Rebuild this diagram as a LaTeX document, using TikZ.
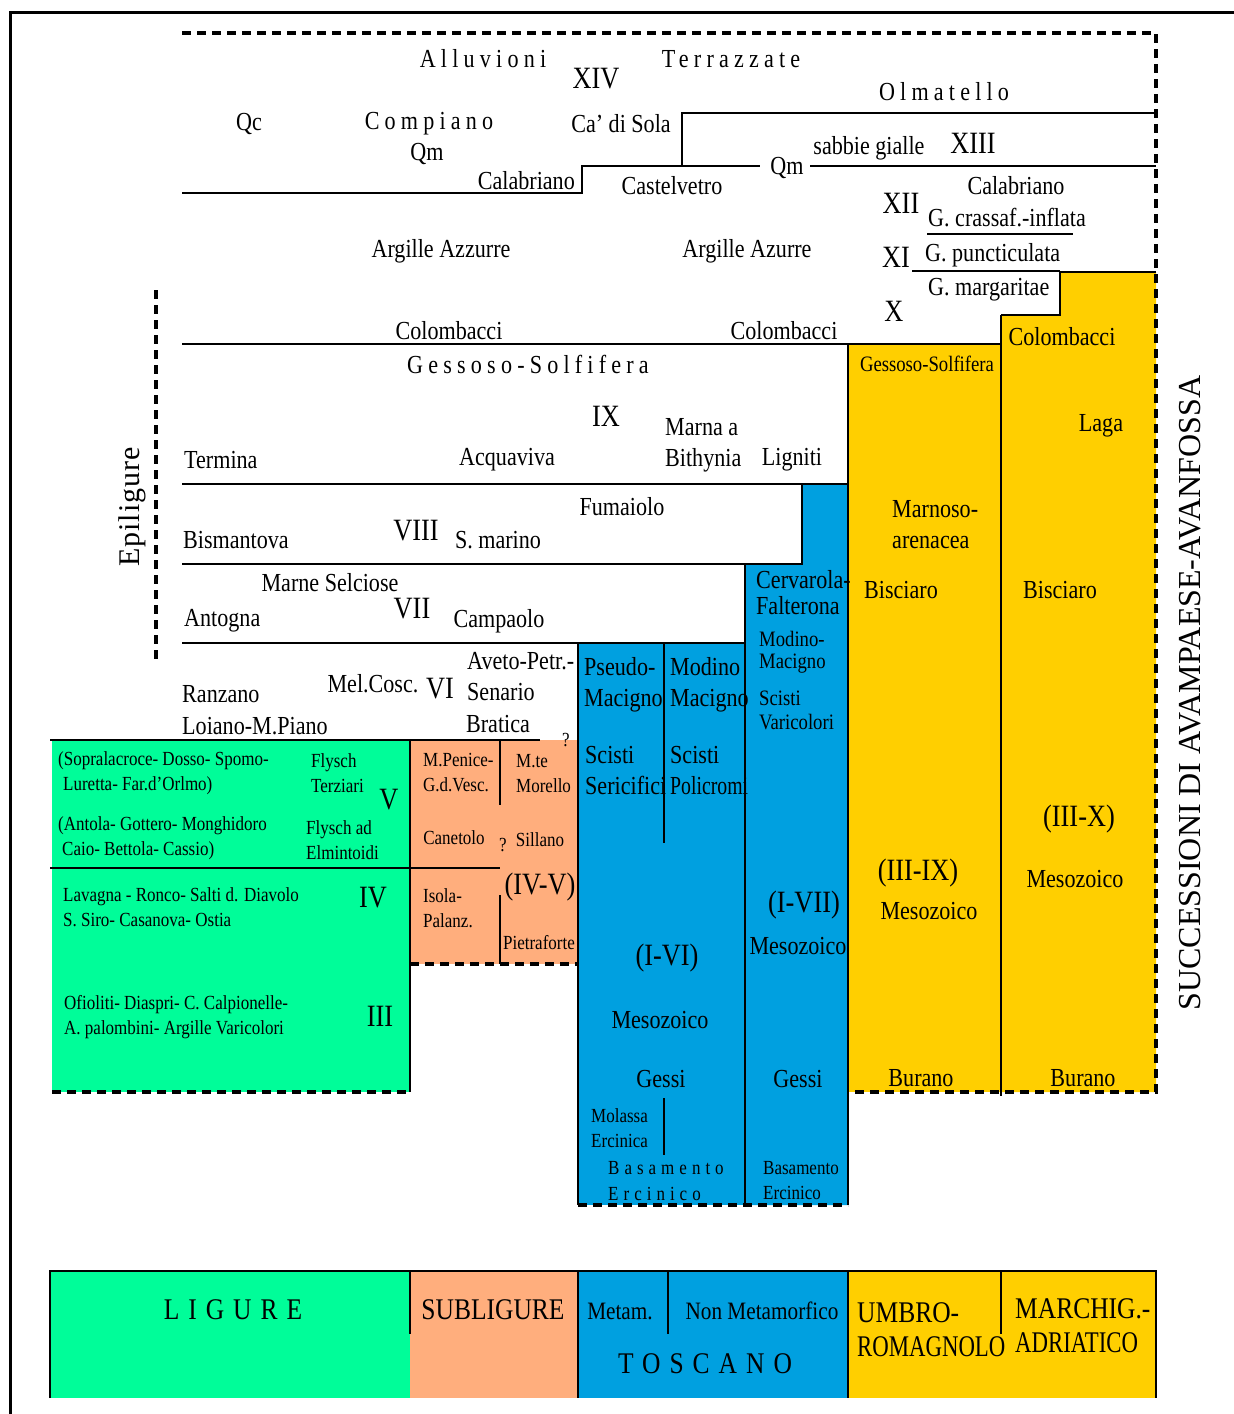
\documentclass[tikz,border=0pt]{standalone}
\usepackage{fontspec}
\setmainfont{Liberation Serif}[FakeStretch=0.85]
\newfontfamily\widefont{Liberation Serif}
\newfontfamily\narrowfont{Liberation Serif}[FakeStretch=0.76]

\definecolor{ligure}{RGB}{0,253,153}
\definecolor{subligure}{RGB}{255,174,125}
\definecolor{toscano}{RGB}{0,160,224}
\definecolor{umbro}{RGB}{255,207,0}

\begin{document}
\begin{tikzpicture}[
    x=1pt, y=-1pt,
    line width = 2.4pt,
    lab/.style={inner sep=0pt, align=left, font=\fontsize{26}{31}\selectfont},
    sml/.style={inner sep=0pt, align=left, font=\fontsize{20}{25}\selectfont},
    mid/.style={inner sep=0pt, align=left, font=\fontsize{22}{22}\selectfont},
    rom/.style={inner sep=0pt, font=\fontsize{31}{31}\selectfont},
    spc/.style={inner sep=0pt, font=\fontsize{26}{27}\selectfont\addfontfeature{LetterSpace=20}},
    leg/.style={inner sep=0pt, align=left, font=\fontsize{30}{34}\selectfont},
    cut/.style={dash pattern=on 9pt off 6pt, line width=3.2pt},
    ]

    % Determines the boundries
    \path [use as bounding box] (0,0) rectangle (1234,1414);

    \def\top{33}
    \def\rgt{1156}
    \def\legT{1271}
    \def\legB{1398}

    % Coloured columns
    \fill[ligure] (52,740) rectangle (410,1092);
    \fill[subligure] (410,740) rectangle (578,964);
    \fill[toscano] (578,643) rectangle (745,1205);
    \fill[toscano] (745,564) -- (802,564) -- (802,484) -- (848,484) -- (848,1205) -- (745,1205) -- cycle;
    \fill[umbro] (848,344) rectangle (1001,1092);
    \fill[umbro] (1001,315) -- (1060,315) -- (1060,272) -- (\rgt,272) -- (\rgt,1092) -- (1001,1092) -- cycle;

    % Outer frame
    \draw[line width = 3pt] (10,1414) -- (10,12) -- (1234,12);

    % Dashed limits
    \draw[cut] (182,\top) -- (\rgt,\top) -- (\rgt,1092) -- (848,1092);
    \draw[cut] (52,1092) -- (410,1092);
    \draw[cut] (410,964) -- (578,964);
    \draw[cut] (578,1205) -- (848,1205);
    \draw[cut] (156,290) -- (156,662);

    % Stratigraphic boundaries
    \draw (682,166) -- (682,113) -- (\rgt,113);
    \draw (182,193) -- (582,193) -- (582,166) -- (760,166);
    \draw (810,166) -- (\rgt,166);
    \draw (927,234) -- (1073,234);
    \draw (912,271) -- (1060,271);
    \draw (1001,315) -- (1060,315) -- (1060,272) -- (\rgt,272);
    \draw (182,344) -- (1001,344);
    \draw (182,484) -- (848,484);
    \draw (182,564) -- (802,564) -- (802,484);
    \draw (182,643) -- (745,643);
    \draw (50,740) -- (540,740);
    \draw (50,868) -- (500,868);
    \draw (500,740) -- (500,805) (500,895) -- (500,964);
    \draw (410,740) -- (410,1092);
    \draw (664,643) -- (664,843) (664,1098) -- (664,1155);
    \foreach \x/\a/\b in {578/643/1205, 745/564/1205, 848/344/1205, 1001/315/1096}{
        \draw (\x,\a) -- (\x,\b);
    }

    % Legend
    \foreach \a/\b/\c in {50/410/ligure, 410/578/subligure, 578/848/toscano, 848/\rgt/umbro}{
        \fill[\c] (\a,\legT) rectangle (\b,\legB);
    }
    \draw[line width = 2pt] (50,\legB) -- (50,\legT) -- (\rgt,\legT) -- (\rgt,\legB);
    \foreach \x/\b in {410/1334, 578/\legB, 668/1334, 848/\legB, 1001/1334}{
        \draw[line width = 2pt] (\x,\legT) -- (\x,\b);
    }

    % Formation names
    \foreach \n/\a/\x/\y/\t in {
        qc/center/249/124/Qc, cadisola/center/621/124/{Ca’ di Sola}, qmA/center/427/154/Qm,
        calabA/east/576/181/Calabriano, castel/center/672/186/Castelvetro, qmB/center/787/168/Qm,
        sabbie/center/869/148/{sabbie gialle}, calabB/center/1016/186/Calabriano,
        crassaf/west/927/218/{G. crassaf.-inflata}, punct/west/924/255/{G. puncticulata},
        margar/west/927/290/{G. margaritae},
        argA/center/441/251/{Argille Azzurre}, argB/center/747/251/{Argille Azurre},
        colA/center/449/331/Colombacci, colB/center/784/331/Colombacci, colC/center/1062/337/Colombacci,
        termina/west/183/460/Termina, acqua/center/507/460/Acquaviva, ligniti/center/792/460/Ligniti,
        marna/west/664/445/{Marna a\\Bithynia}, laga/center/1101/426/Laga,
        fumaiolo/center/622/507/Fumaiolo, bisman/west/182/540/Bismantova, smarino/center/498/540/{S. marino},
        marnoso/west/891/525/{Marnoso-\\arenacea},
        selciose/center/330/583/{Marne Selciose}, antogna/west/183/621/Antogna, campaolo/center/499/621/Campaolo,
        biscA/center/901/590/Bisciaro, biscB/center/1060/590/Bisciaro,
        aveto/west/466/677/{Aveto-Petr.-\\Senario}, melcosc/center/373/684/Mel.Cosc.,
        ranzano/west/181/694/Ranzano, loiano/west/181/726/Loiano-M.Piano, bratica/center/498/724/Bratica,
        pseudo/west/583/685/{Pseudo-\\Macigno}, modinoA/west/669/685/{Modino\\Macigno},
        sericifici/west/584/771/{Scisti\\Sericifici}, policromi/west/669/771/{Scisti\\{\narrowfont Policromi}},
        mesoA/center/660/1020/Mesozoico, gessiA/center/661/1079/Gessi,
        mesoB/center/798/946/Mesozoico, gessiB/center/798/1079/Gessi,
        mesoC/center/929/911/Mesozoico, mesoD/center/1075/879/Mesozoico,
        buranoA/center/921/1078/Burano, buranoB/center/1083/1078/Burano}{
        \node[lab, anchor=\a] (\n) at (\x,\y) {\t};
    }
    \node[lab, anchor=west, font=\fontsize{26}{26}\selectfont] (cervarola) at (755,593) {Cervarola-\\Falterona};

    % Units (roman numerals)
    \foreach \n/\x/\y/\t in {
        xiv/596/79/XIV, xiii/973/143/XIII, xii/901/203/XII, xi/896/257/XI, x/894/311/X,
        ix/606/416/IX, viii/416/531/VIII, vii/412/609/VII, vi/440/689/VI, v/389/800/V,
        iv/373/898/IV, iii/380/1016/III, ivv/540/887/(IV-V), ivi/667/958/(I-VI),
        ivii/804/905/(I-VII), iiiix/918/873/(III-IX), iiix/1079/819/(III-X)}{
        \node[rom] (\n) at (\x,\y) {\t};
    }

    % Small print in the coloured boxes
    \foreach \n/\a/\x/\y/\t in {
        sopra/west/57/773/{(Sopralacroce- Dosso- Spomo-\\\hspace*{5pt}Luretta- Far.d’Orlmo)},
        flyschA/west/310/773/{Flysch\\Terziari},
        antola/west/57/838/{(Antola- Gottero- Monghidoro\\\hspace*{4pt}Caio- Bettola- Cassio)},
        flyschB/west/305/840/{Flysch ad\\Elmintoidi},
        lavagna/west/62/907/{Lavagna - Ronco- Salti d. Diavolo\\S. Siro- Casanova- Ostia},
        ofioliti/west/63/1017/{Ofioliti- Diaspri- C. Calpionelle-\\A. palombini- Argille Varicolori},
        penice/west/422/773/{M.Penice-\\G.d.Vesc.}, mte/west/515/774/{M.te\\Morello},
        canetolo/center/454/838/Canetolo, qA/center/503/845/?, sillano/center/540/840/Sillano,
        isola/west/422/908/{Isola-\\Palanz.}, pietra/center/539/943/Pietraforte, qB/center/566/740/?,
        molassa/west/590/1128/{Molassa\\Ercinica}, basA/west/762/1181/{Basamento\\Ercinico}}{
        \node[sml, anchor=\a] (\n) at (\x,\y) {\t};
    }
    \node[sml, anchor=west, font=\fontsize{20}{26}\selectfont\addfontfeature{LetterSpace=25}] (basB) at (607,1181) {Basamento\\Ercinico};
    \node[mid, anchor=west] (modinoB) at (758,652) {Modino-\\Macigno};
    \node[mid, anchor=west, font=\fontsize{22}{24}\selectfont] (scistiB) at (758,710) {Scisti\\Varicolori};
    \node[mid] (gessosoB) at (927,364) {Gessoso-Solfifera};

    % Spaced names
    \foreach \n/\x/\y/\t in {alluv/483/59/Alluvioni, terraz/731/59/Terrazzate, olmat/944/92/Olmatello,
        compiano/429/124/Compiano, gessosoA/528/364/Gessoso-Solfifera}{
        \node[spc] (\n) at (\x,\y) {\t};
    }

    % Legend names
    \node[leg, font=\fontsize{30}{34}\selectfont\addfontfeature{LetterSpace=30}] (ligure) at (233,1310) {LIGURE};
    \node[leg] (subligure) at (493,1310) {SUBLIGURE};
    \node[leg, font=\fontsize{25}{25}\selectfont] (metam) at (620,1311) {Metam.};
    \node[leg, font=\fontsize{25}{25}\selectfont] (nonmeta) at (762,1311) {Non Metamorfico};
    \node[leg, font=\fontsize{30}{34}\selectfont\addfontfeature{LetterSpace=30}] (toscano) at (705,1364) {TOSCANO};
    \node[leg, anchor=west] (umbro) at (856,1330) {UMBRO-\\{\narrowfont ROMAGNOLO}};
    \node[leg, anchor=west] (marchig) at (1014,1326) {MARCHIG.-\\{\narrowfont ADRIATICO}};

    % Side titles
    \node[inner sep=0pt, rotate=90, font=\widefont\fontsize{30}{30}\selectfont\addfontfeature{LetterSpace=3}] (epi) at (132,507) {Epiligure};
    \node[inner sep=0pt, rotate=90, font=\widefont\fontsize{32}{32}\selectfont] (succ) at (1190,693) {SUCCESSIONI DI AVAMPAESE-AVANFOSSA};

\end{tikzpicture}
\end{document}
